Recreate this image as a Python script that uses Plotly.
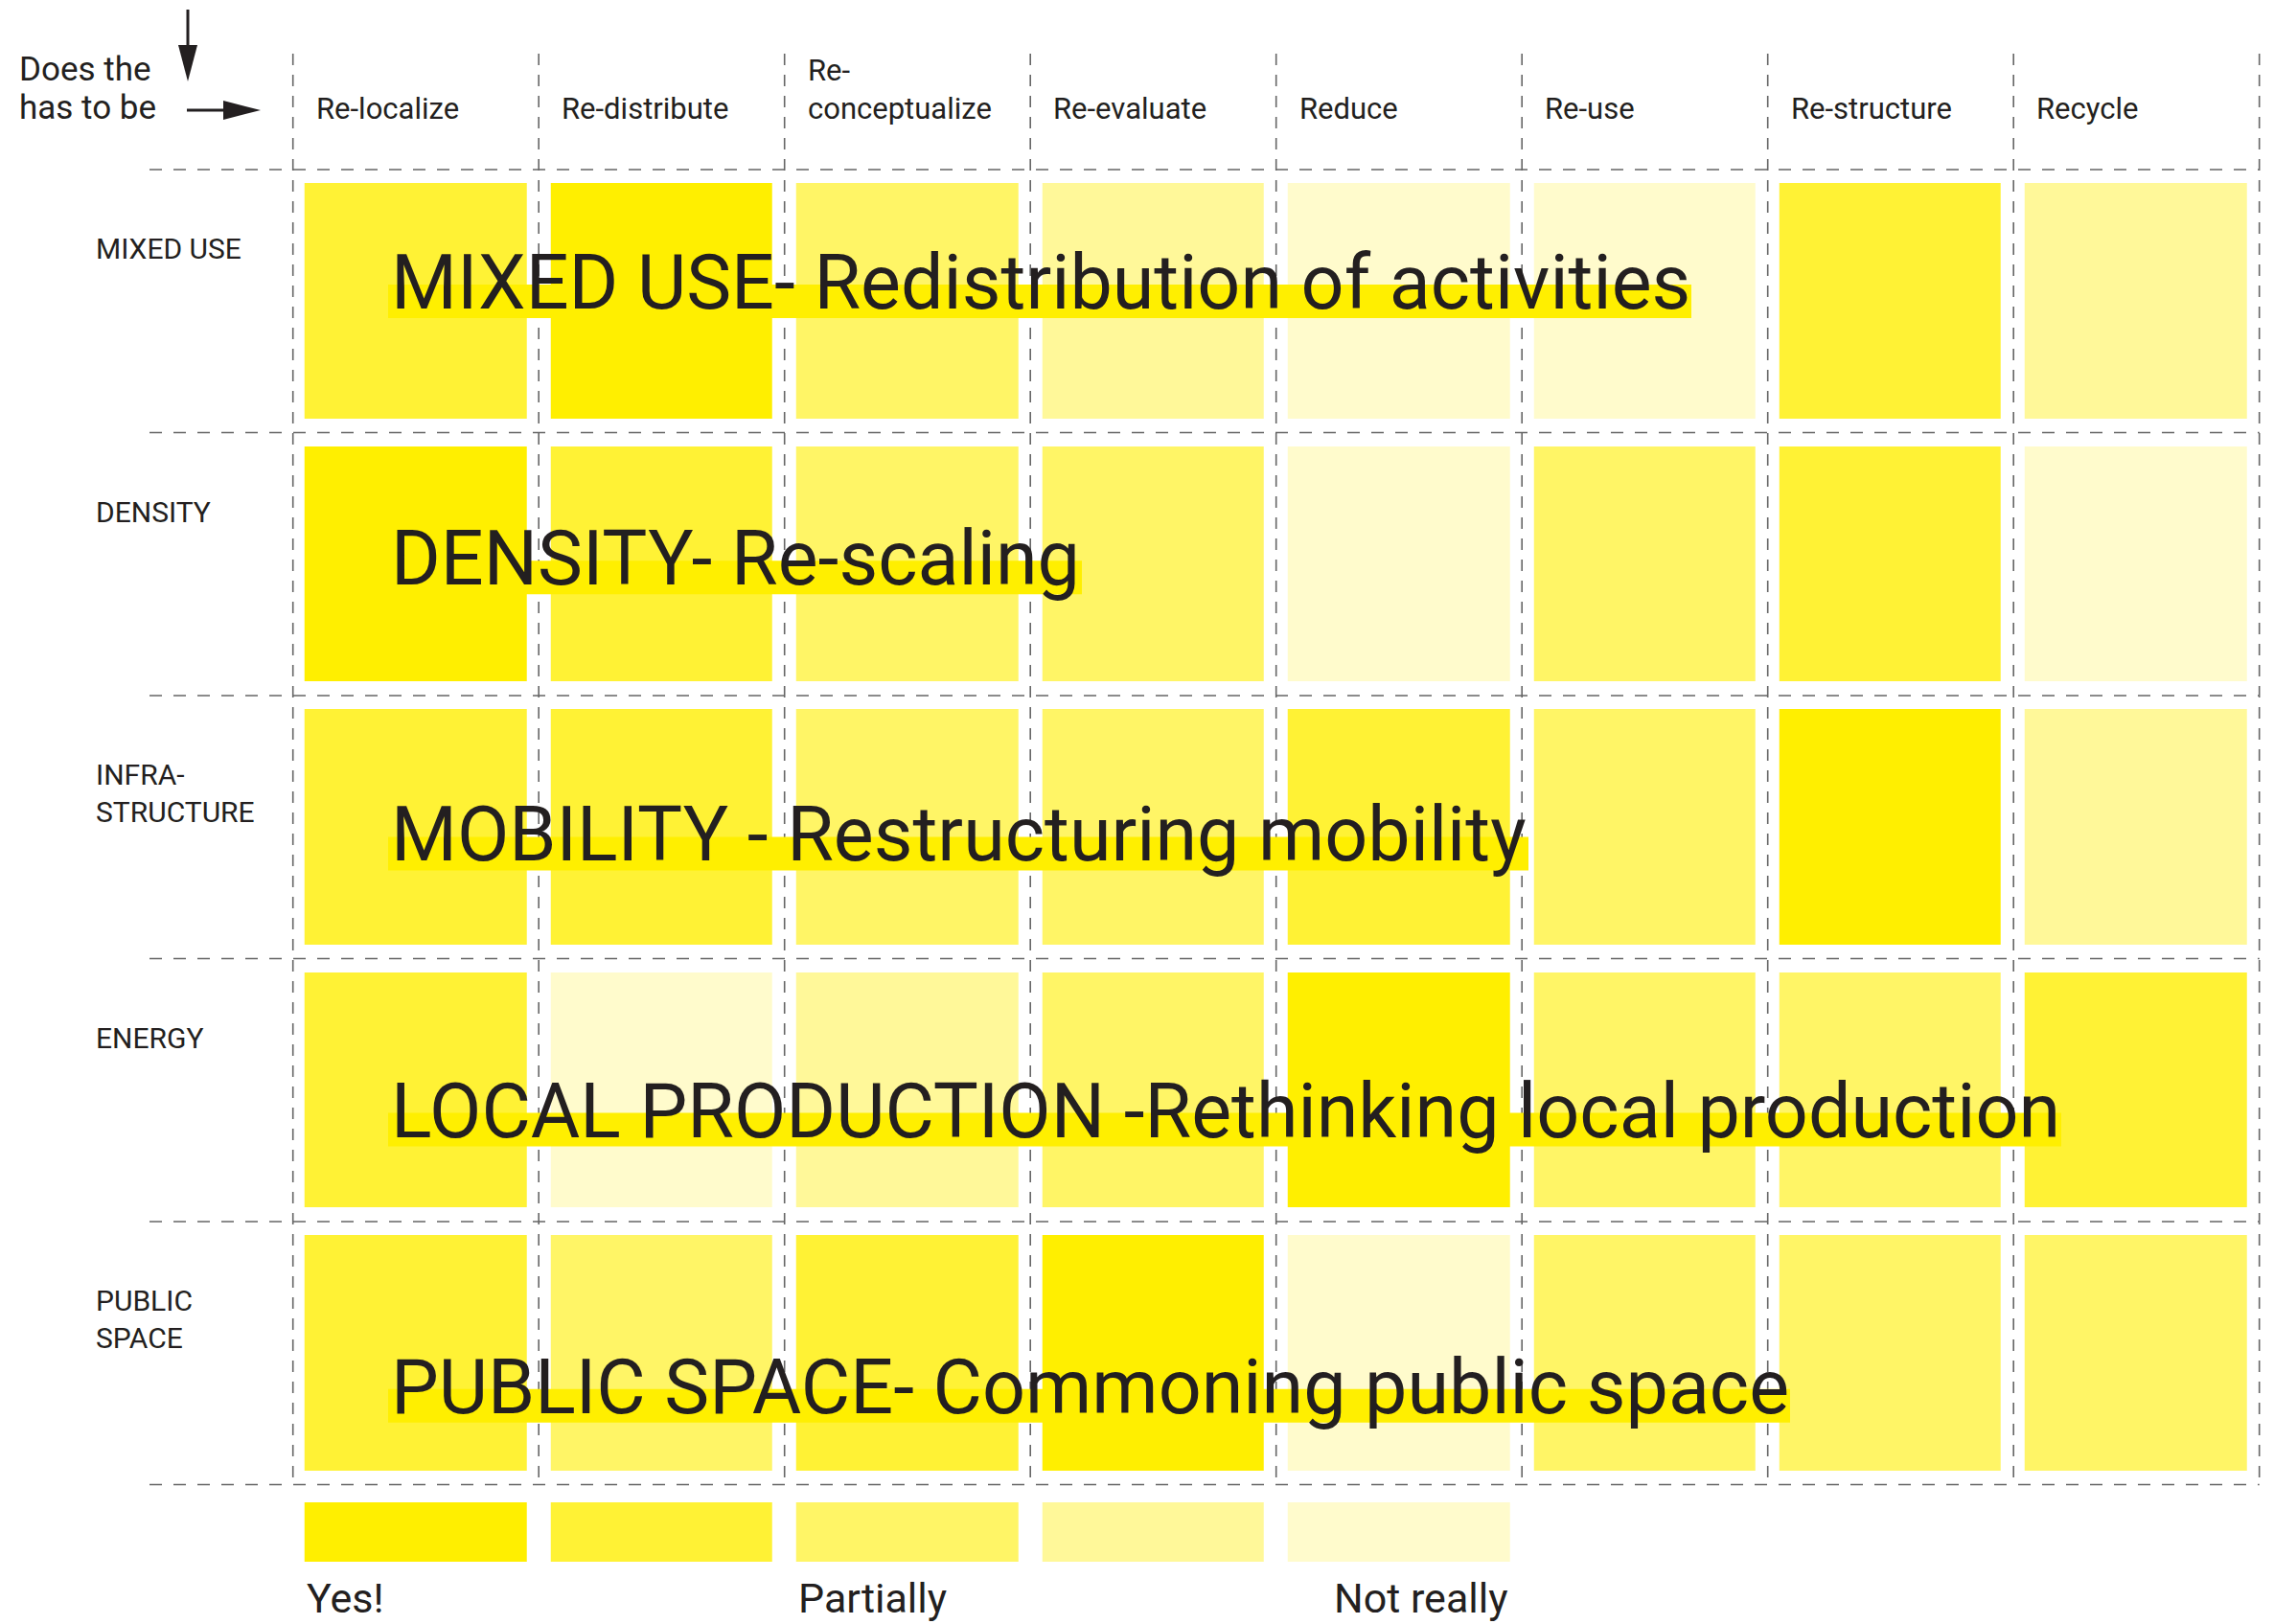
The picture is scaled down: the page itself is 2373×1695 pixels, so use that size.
import plotly.graph_objects as go

# ---- data -------------------------------------------------------------
COLUMNS = ["Re-localize", "Re-distribute", "Re-\nconceptualize", "Re-evaluate",
           "Reduce", "Re-use", "Re-structure", "Recycle"]
ROWS = ["MIXED USE", "DENSITY", "INFRA-\nSTRUCTURE", "ENERGY", "PUBLIC\nSPACE"]

# 1 = Yes! ... 5 = Not really
LEVELS = [
    [2, 1, 3, 4, 5, 5, 2, 4],
    [1, 2, 3, 3, 5, 3, 2, 5],
    [2, 2, 3, 3, 2, 3, 1, 4],
    [2, 5, 4, 3, 1, 3, 3, 2],
    [2, 3, 2, 1, 5, 3, 3, 3],
]
THEMES = [
    "MIXED USE- Redistribution of activities",
    "DENSITY- Re-scaling",
    "MOBILITY - Restructuring mobility",
    "LOCAL PRODUCTION -Rethinking local production",
    "PUBLIC SPACE- Commoning public space",
]
LEGEND_LEVELS = [1, 2, 3, 4, 5]
LEGEND_LABELS = {0: "Yes!", 2: "Partially", 4: "Not really"}
HEADER = ["Does the", "has to be"]

LEVEL_COLORS = ["#FFEF00", "#FFF235", "#FFF566", "#FFF899", "#FFFBCC"]
INK = "#231f20"
GRID = "#666666"
FONT = "Roboto"

# ---- page geometry (pixels -> axis units) -----------------------------
W, H = 2373, 1695
X0, CW = 305.7, 256.5   # left grid line, column width
Y0, RH = 177.0, 274.5   # top grid line, row height


def px2x(p):
    return (p - X0) / CW


def px2y(p):
    return (p - Y0) / RH


# right end of the highlight band under each theme title (px)
BAND_END = [1765, 1129, 1595, 2151, 1868]

ncol, nrow = len(COLUMNS), len(ROWS)

scale = []
n = len(LEVEL_COLORS)
for i, c in enumerate(LEVEL_COLORS):
    scale.append([i / n, c])
    scale.append([(i + 1) / n, c])

fig = go.Figure()

fig.add_trace(go.Heatmap(
    z=LEVELS, x=[i + 0.5 for i in range(ncol)], y=[j + 0.5 for j in range(nrow)],
    coloraxis="coloraxis", xgap=25, ygap=29, hoverinfo="skip",
))

# legend swatches
fig.add_trace(go.Heatmap(
    z=[LEGEND_LEVELS], x=list(range(len(LEGEND_LEVELS) + 1)),
    y=[px2y(1568), px2y(1630)],
    coloraxis="coloraxis", xgap=25, hoverinfo="skip",
))

shapes = []
# dashed grid
for i in range(ncol + 1):
    shapes.append(dict(type="line", x0=i, x1=i, y0=px2y(56), y1=nrow,
                       line=dict(color=GRID, width=1.6, dash="12px,10px")))
for j in range(nrow + 1):
    shapes.append(dict(type="line", x0=px2x(156), x1=ncol, y0=j, y1=j,
                       line=dict(color=GRID, width=1.6, dash="13px,12px")))

# highlight bands + theme titles
annotations = []
for j, (txt, end) in enumerate(zip(THEMES, BAND_END)):
    base = 322 + j * 288.2
    shapes.append(dict(type="rect", x0=px2x(405), x1=px2x(end),
                       y0=px2y(base - 25), y1=px2y(base + 10),
                       fillcolor=LEVEL_COLORS[0], line=dict(width=0)))
    annotations.append(dict(text=txt, x=px2x(406), y=px2y(base - 27),
                            xanchor="left", yanchor="middle", showarrow=False,
                            font=dict(size=79, color=INK, family=FONT)))

# arrows in the header corner
ARROW = "#231f20"
shapes.append(dict(type="line", x0=px2x(196), x1=px2x(196), y0=px2y(10), y1=px2y(50),
                   line=dict(color=ARROW, width=3)))
shapes.append(dict(type="path",
                   path=f"M {px2x(186)},{px2y(47)} L {px2x(206)},{px2y(47)} L {px2x(196)},{px2y(85)} Z",
                   fillcolor=ARROW, line=dict(width=0)))
shapes.append(dict(type="line", x0=px2x(195), x1=px2x(237), y0=px2y(115), y1=px2y(115),
                   line=dict(color=ARROW, width=3)))
shapes.append(dict(type="path",
                   path=f"M {px2x(233)},{px2y(105)} L {px2x(233)},{px2y(125)} L {px2x(272)},{px2y(115)} Z",
                   fillcolor=ARROW, line=dict(width=0)))

for k, t in enumerate(HEADER):
    annotations.append(dict(text=t, x=px2x(18), y=px2y(72 + k * 40), xanchor="left",
                            yanchor="middle", showarrow=False,
                            font=dict(size=35, color=INK, family=FONT)))

# column labels
for i, c in enumerate(COLUMNS):
    annotations.append(dict(text=c.replace("\n", "<br>"), x=i + px2x(X0 + 22), y=px2y(134),
                            xanchor="left", yanchor="bottom", align="left", showarrow=False,
                            font=dict(size=31, color=INK, family=FONT)))

# row labels
for j, r in enumerate(ROWS):
    annotations.append(dict(text=r.replace("\n", "<br>"), x=px2x(98), y=j + 63 / RH,
                            xanchor="left", yanchor="top", align="left", showarrow=False,
                            font=dict(size=30, color=INK, family=FONT)))

# legend labels
for i, lab in LEGEND_LABELS.items():
    right = i == len(LEGEND_LEVELS) - 1
    annotations.append(dict(text=lab, x=(i + 1 - 12.5 / CW) if right else (i + 12 / CW),
                            y=px2y(1668), xanchor="right" if right else "left",
                            yanchor="middle", showarrow=False,
                            font=dict(size=43, color=INK, family=FONT)))

fig.update_layout(
    width=W, height=H, margin=dict(l=0, r=0, t=0, b=0),
    paper_bgcolor="white", plot_bgcolor="white",
    coloraxis=dict(colorscale=scale, cmin=0.5, cmax=5.5, showscale=False),
    shapes=shapes, annotations=annotations, showlegend=False,
    xaxis=dict(range=[px2x(0), px2x(W)], visible=False, fixedrange=True),
    yaxis=dict(range=[px2y(H), px2y(0)], visible=False, fixedrange=True),
)

fig.write_html("out.html", config={"displayModeBar": False},
               post_script="document.body.style.margin='0';")
